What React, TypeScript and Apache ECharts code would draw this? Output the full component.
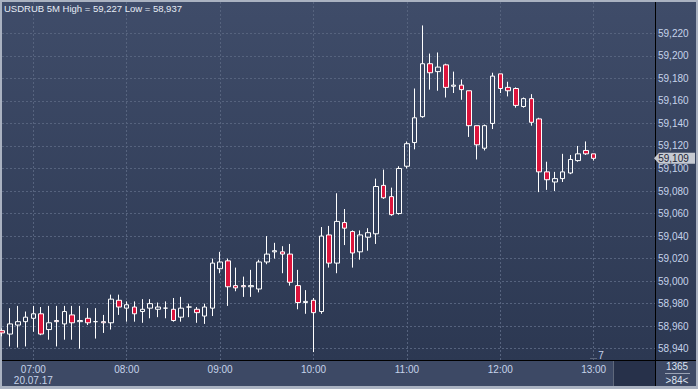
import { useEffect, useRef } from 'react';
import * as echarts from 'echarts';

const tickIndex = [4, 16, 28, 40, 52, 64, 76];
const tickLabels = ['07:00', '08:00', '09:00', '10:00', '11:00', '12:00', '13:00'];
const dateLabel = '20.07.17';
const priceTicks = [58.94, 58.96, 58.98, 59.0, 59.02, 59.04, 59.06, 59.08, 59.1, 59.12, 59.14, 59.16, 59.18, 59.2, 59.22];

const opens = [
  58.956, 58.953, 58.961, 58.964, 58.967, 58.971, 58.957, 58.965, 58.962, 58.970,
  58.964, 58.967, 58.964, 58.964, 58.963, 58.983, 58.976, 58.977, 58.973, 58.976,
  58.975, 58.976, 58.975, 58.968, 58.977, 58.975, 58.969, 58.976, 59.011, 59.018,
  58.996, 58.996, 58.995, 58.993, 59.017, 59.026, 59.026, 59.024, 58.996, 58.981,
  58.983, 58.973, 59.041, 59.016, 59.052, 59.044, 59.026, 59.039, 59.042, 59.085,
  59.075, 59.060, 59.102, 59.123, 59.146, 59.193, 59.186, 59.192, 59.173, 59.174,
  59.169, 59.138, 59.118, 59.140, 59.184, 59.172, 59.171, 59.155, 59.162, 59.144,
  59.097, 59.088, 59.091, 59.096, 59.107, 59.116, 59.113,
];
const closes = [
  58.954, 58.962, 58.964, 58.968, 58.971, 58.953, 58.963, 58.964, 58.973, 58.963,
  58.965, 58.963, 58.964, 58.963, 58.984, 58.977, 58.979, 58.971, 58.975, 58.980,
  58.977, 58.976, 58.965, 58.976, 58.977, 58.972, 58.977, 59.016, 59.017, 58.995,
  58.994, 58.995, 58.996, 59.017, 59.024, 59.027, 59.024, 58.999, 58.981, 58.982,
  58.972, 59.040, 59.016, 59.053, 59.047, 59.025, 59.041, 59.043, 59.084, 59.074,
  59.059, 59.100, 59.122, 59.145, 59.193, 59.185, 59.190, 59.172, 59.174, 59.170,
  59.138, 59.121, 59.138, 59.182, 59.171, 59.169, 59.156, 59.162, 59.141, 59.097,
  59.090, 59.091, 59.097, 59.108, 59.113, 59.113, 59.109,
];
const lows = [
  58.951, 58.942, 58.941, 58.942, 58.955, 58.952, 58.948, 58.942, 58.948, 58.948,
  58.940, 58.961, 58.949, 58.954, 58.957, 58.970, 58.964, 58.964, 58.963, 58.967,
  58.968, 58.967, 58.964, 58.964, 58.968, 58.963, 58.962, 58.969, 59.007, 58.978,
  58.991, 58.986, 58.986, 58.990, 59.015, 59.020, 59.007, 58.996, 58.975, 58.971,
  58.937, 58.971, 59.012, 59.007, 59.032, 59.012, 59.019, 59.027, 59.033, 59.073,
  59.058, 59.059, 59.100, 59.117, 59.145, 59.170, 59.169, 59.163, 59.167, 59.161,
  59.128, 59.108, 59.116, 59.135, 59.167, 59.164, 59.154, 59.154, 59.138, 59.079,
  59.081, 59.080, 59.088, 59.095, 59.106, 59.112, 59.107,
];
const highs = [
  58.958, 58.976, 58.978, 58.973, 58.978, 58.977, 58.978, 58.978, 58.978, 58.978,
  58.978, 58.976, 58.976, 58.970, 58.988, 58.988, 58.982, 58.982, 58.984, 58.984,
  58.981, 58.982, 58.985, 58.986, 58.980, 58.977, 58.980, 59.020, 59.026, 59.020,
  59.012, 59.004, 59.010, 59.019, 59.040, 59.034, 59.031, 59.033, 59.010, 58.992,
  58.985, 59.048, 59.049, 59.078, 59.064, 59.045, 59.045, 59.047, 59.091, 59.099,
  59.083, 59.102, 59.124, 59.171, 59.227, 59.202, 59.203, 59.193, 59.186, 59.179,
  59.169, 59.138, 59.139, 59.185, 59.184, 59.177, 59.172, 59.163, 59.166, 59.145,
  59.106, 59.097, 59.113, 59.112, 59.120, 59.124, 59.113,
];

const FONT = '"Liberation Sans", Arial, sans-serif';
const LABEL = '#c6d3ea';

const fmt = (v: number) => v.toFixed(3).replace('.', ',');

export default function App() {
  const ref = useRef<HTMLDivElement>(null);
  useEffect(() => {
    const el = ref.current!;
    const chart = echarts.init(el, undefined, { renderer: 'svg', width: 698, height: 389 });
    const data = opens.map((o, i) => [i, o, closes[i], lows[i], highs[i]]);
    const hi = Math.max(...highs);
    const lo = Math.min(...lows);

    chart.setOption({
      animation: false,
      backgroundColor: '#aab2c1',
      grid: { left: 2, top: 2, width: 653, height: 358, containLabel: false },
      xAxis: {
        type: 'value',
        min: -0.026,
        max: 83.88,
        axisLine: { show: false },
        axisTick: { show: false, customValues: tickIndex },
        axisLabel: {
          customValues: tickIndex,
          color: LABEL,
          fontFamily: FONT,
          fontSize: 10,
          lineHeight: 11,
          margin: 4,
          formatter: (v: number) => {
            const k = tickIndex.indexOf(Math.round(v));
            if (k < 0) return '';
            return k === 0 ? tickLabels[k] + '\n' + dateLabel : tickLabels[k];
          },
        },
        splitLine: { show: true, lineStyle: { color: '#56637e', width: 1, type: [2, 2] } },
      },
      yAxis: {
        type: 'value',
        position: 'right',
        min: 58.92997,
        max: 59.2478,
        axisLine: { show: false },
        axisTick: { show: false, customValues: priceTicks },
        axisLabel: {
          customValues: priceTicks,
          color: LABEL,
          fontFamily: FONT,
          fontSize: 10,
          margin: 3,
          formatter: (v: number) => fmt(v),
        },
        splitLine: { show: true, lineStyle: { color: '#56637e', width: 1, type: [2, 2] } },
      },
      series: [
        {
          type: 'candlestick',
          data,
          encode: { x: 0, y: [1, 2, 3, 4] },
          barWidth: 5,
          clip: true,
          emphasis: { disabled: true },
          itemStyle: {
            color: 'rgba(0,0,0,0)',
            color0: '#dc143c',
            borderColor: '#ffffff',
            borderColor0: '#ffffff',
            borderColorDoji: '#ffffff',
            borderWidth: 1,
          },
        },
      ],
    });

    const last = closes[closes.length - 1];
    const py = chart.convertToPixel({ yAxisIndex: 0 }, last) as number;

    const txt = (id: string, text: string, x: number, y: number, fill: string, align: string, size = 10) => ({
      type: 'text',
      id,
      x,
      y,
      z: 60,
      style: {
        text,
        fill,
        font: `${size}px ${FONT}`,
        align,
        textAlign: align,
        verticalAlign: 'middle',
        textVerticalAlign: 'middle',
      },
    });

    chart.setOption({
      graphic: [
        {
          type: 'rect', id: 'plotbg', z: -100,
          shape: { x: 2, y: 2, width: 694, height: 358 },
          style: {
            fill: new echarts.graphic.LinearGradient(0, 0, 0, 1, [
              { offset: 0, color: '#3f4c69' },
              { offset: 1, color: '#2c3852' },
            ]),
          },
        },
        { type: 'rect', id: 'botbg', z: -100, shape: { x: 2, y: 361, width: 694, height: 25 }, style: { fill: '#3d4965' } },
        { type: 'rect', id: 'darkbox', z: -99, shape: { x: 614, y: 361, width: 41, height: 25 }, style: { fill: '#27314a' } },
        { type: 'line', id: 'darkedge', z: -98, shape: { x1: 613.5, y1: 361, x2: 613.5, y2: 386 }, style: { stroke: '#5f687b', lineWidth: 1 } },
        { type: 'line', id: 'hline', z: 50, shape: { x1: 2, y1: 360.5, x2: 696, y2: 360.5 }, style: { stroke: '#000000', lineWidth: 1 } },
        { type: 'line', id: 'vline', z: 50, shape: { x1: 655.5, y1: 2, x2: 655.5, y2: 386 }, style: { stroke: '#000000', lineWidth: 1 } },
        { type: 'line', id: 'sep', z: 50, shape: { x1: 665, y1: 373.5, x2: 690, y2: 373.5 }, style: { stroke: '#9aa3b5', lineWidth: 1 } },
        { type: 'line', id: 'mark7', z: 50, shape: { x1: 590, y1: 358.5, x2: 597, y2: 358.5 }, style: { stroke: '#5a6479', lineWidth: 1 } },
        txt('title', `USDRUB 5M High = ${fmt(hi)} Low = ${fmt(lo)}`, 4, 8.5, '#e6ebf5', 'left', 9.5),
        txt('seven', '7', 601, 355, LABEL, 'center'),
        txt('n1365', '1365', 677, 366, '#dde4f0', 'center'),
        txt('n84', '>84<', 677, 380, '#dde4f0', 'center'),
        {
          type: 'polygon', id: 'tag', z: 60,
          shape: { points: [[654, py], [659, py - 5.5], [695, py - 5.5], [695, py + 5.5], [659, py + 5.5]] },
          style: { fill: '#c6cad2' },
        },
        txt('tagtext', fmt(last), 673.5, py + 0.5, '#1c2436', 'center'),
      ],
    });

    return () => chart.dispose();
  }, []);
  return <div ref={ref} style={{ position: 'fixed', left: 0, top: 0, width: 698, height: 389 }} />;
}
